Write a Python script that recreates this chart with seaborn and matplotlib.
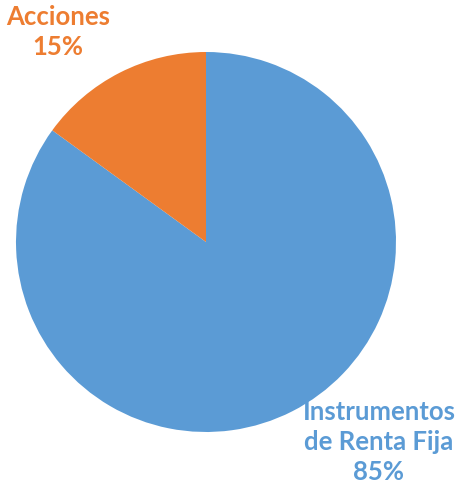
import matplotlib
matplotlib.use("Agg")
import matplotlib.pyplot as plt
import seaborn as sns

labels = ["Instrumentos\nde Renta Fija", "Acciones"]
values = [85, 15]
pct_labels = ["85%", "15%"]
colors = ["#5B9BD5", "#ED7D31"]

sns.set_theme(style="white")
plt.rcParams['font.family'] = ['Lato', 'DejaVu Sans']

W, H = 456, 487
fig = plt.figure(figsize=(W / 100, H / 100), dpi=100)
ax = fig.add_axes([0, 0, 1, 1])

ax.pie(values, colors=colors, startangle=90, counterclock=False,
       center=(206, H - 242), radius=190, frame=True,
       wedgeprops=dict(linewidth=0))
ax.set_xlim(0, W)
ax.set_ylim(0, H)
ax.set_aspect("equal")
ax.axis("off")

ax.text(379, H - 442, labels[0] + "\n" + pct_labels[0], ha="center", va="center",
        color=colors[0], fontsize=18.5, fontweight="bold", linespacing=1.3)
ax.text(58, H - 32, labels[1] + "\n" + pct_labels[1], ha="center", va="center",
        color=colors[1], fontsize=18.5, fontweight="bold", linespacing=1.3)

fig.savefig("out.png", dpi=100)
